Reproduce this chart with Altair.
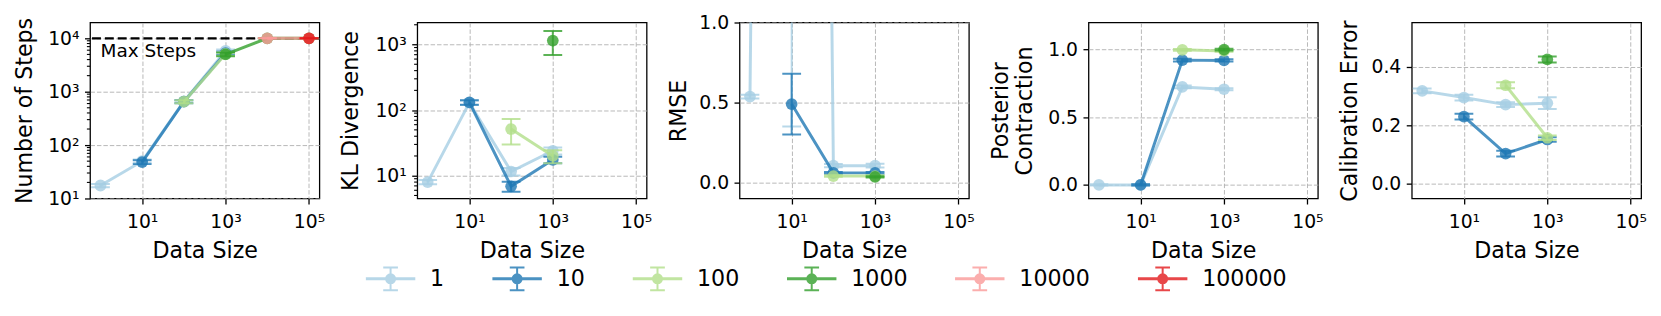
import altair as alt
import pandas as pd

FONT = "DejaVu Sans"

DATA_SIZES = [1, 10, 100, 1000, 10000, 100000]
SERIES = ["1", "10", "100", "1000", "10000", "100000"]
COLORS = ["#a6cee3", "#1f78b4", "#b2df8a", "#33a02c", "#fb9a99", "#e31a1c"]
N = None

# rows = series (1, 10, 100, 1000, 10000, 100000), columns = data size
STEPS_MEAN = [
    [17.5, 50, 660, 5800, N, N],
    [N, 48, 650, 5300, N, N],
    [N, N, 650, 5100, N, N],
    [N, N, N, 5000, 10000, 10000],
    [N, N, N, N, 10000, 10000],
    [N, N, N, N, N, 10000],
]
STEPS_ERR = [
    [1.2, 4, 40, 400, N, N],
    [N, 4, 40, 400, N, N],
    [N, N, 40, 400, N, N],
    [N, N, N, 400, 0, 0],
    [N, N, N, N, 0, 0],
    [N, N, N, N, N, 0],
]
KL_MEAN = [
    [8.0, 130, 11.6, 24, N, N],
    [N, 131, 6.9, 17.5, N, N],
    [N, N, 51.5, 20, N, N],
    [N, N, N, 1150, N, N],
]
KL_ERR = [
    [0.6, 10, 1.5, 3, N, N],
    [N, 10, 1.2, 2, N, N],
    [N, N, 21.5, 4.5, N, N],
    [N, N, N, 460, N, N],
]
RMSE_MEAN = [
    [0.537, 25.0, 0.105, 0.105, N, N],
    [N, 0.49, 0.06, 0.06, N, N],
    [N, N, 0.04, 0.04, N, N],
    [N, N, N, 0.035, N, N],
]
RMSE_ERR = [
    [0.012, 24.65, 0.01, 0.012, N, N],
    [N, 0.19, 0.006, 0.006, N, N],
    [N, N, 0.005, 0.005, N, N],
    [N, N, N, 0.004, N, N],
]
CONTRACTION_MEAN = [
    [0.0, 0.0, 0.724, 0.707, N, N],
    [N, 0.0, 0.922, 0.92, N, N],
    [N, N, 0.998, 0.99, N, N],
    [N, N, N, 1.0, N, N],
]
CONTRACTION_ERR = [
    [0.005, 0.005, 0.01, 0.008, N, N],
    [N, 0.005, 0.01, 0.008, N, N],
    [N, N, 0.006, 0.006, N, N],
    [N, N, N, 0.006, N, N],
]
CALIB_MEAN = [
    [0.317, 0.294, 0.27, 0.275, N, N],
    [N, 0.229, 0.103, 0.151, N, N],
    [N, N, 0.336, 0.157, N, N],
    [N, N, N, 0.424, N, N],
]
CALIB_ERR = [
    [0.008, 0.01, 0.008, 0.02, N, N],
    [N, 0.01, 0.01, 0.008, N, N],
    [N, N, 0.01, 0.008, N, N],
    [N, N, N, 0.01, N, N],
]

MAX_STEPS = 10000
MAX_STEPS_TEXT = "Max Steps"
MAX_STEPS_TEXT_X = 1
MAX_STEPS_TEXT_Y = 8600

MINOR_STEPS = [20, 30, 40, 50, 60, 70, 80, 90, 200, 300, 400, 500, 600, 700, 800, 900,
               2000, 3000, 4000, 5000, 6000, 7000, 8000, 9000]
MINOR_KL = [5, 6, 7, 8, 9, 20, 30, 40, 50, 60, 70, 80, 90,
            200, 300, 400, 500, 600, 700, 800, 900, 2000]

X_DOMAIN = [0.5623, 177828]
X_TICKS = [10, 1000, 100000]
SUP_EXPR = "['10⁰','10¹','10²','10³','10⁴','10⁵'][round(log(datum.value)/LN10)]"

PANELS = [
    dict(title="Number of Steps", mean=STEPS_MEAN, err=STEPS_ERR, log=True,
         domain=[10, 19800], ticks=[10, 100, 1000, 10000], minor=MINOR_STEPS, ext=53.8, maxline=True),
    dict(title="KL Divergence", mean=KL_MEAN, err=KL_ERR, log=True,
         domain=[4.5, 2165], ticks=[10, 100, 1000], minor=MINOR_KL, ext=55.3, maxline=False),
    dict(title="RMSE", mean=RMSE_MEAN, err=RMSE_ERR, log=False,
         domain=[-0.1, 1.0], ticks=[0.0, 0.5, 1.0], minor=None, ext=49.6, maxline=False),
    dict(title=["Posterior", "Contraction"], mean=CONTRACTION_MEAN, err=CONTRACTION_ERR, log=False,
         domain=[-0.1, 1.2], ticks=[0.0, 0.5, 1.0], minor=None, ext=52.6, maxline=False),
    dict(title="Calibration Error", mean=CALIB_MEAN, err=CALIB_ERR, log=False,
         domain=[-0.05, 0.55], ticks=[0.0, 0.2, 0.4], minor=None, ext=51.3, maxline=False),
]

LEGEND_PATH = ("M-1,-0.02L1,-0.02L1,0.02L-1,0.02Z"
               "M0,-0.48L0,0.48M-0.31,-0.48L0.31,-0.48M-0.31,0.48L0.31,0.48"
               "M0.19,0A0.19,0.19 0 1,1 -0.19,0A0.19,0.19 0 1,1 0.19,0Z")

COLOR_SCALE = alt.Scale(domain=SERIES, range=COLORS)
LEGEND = alt.Legend(
    title=None, orient="none", legendX=279, legendY=234, direction="horizontal",
    columns=6, columnPadding=45, labelOffset=15, symbolType=LEGEND_PATH,
    symbolSize=2304, symbolStrokeWidth=2, symbolOpacity=0.8, padding=0,
    labelFont=FONT, labelFontSize=22.4, labelColor="black", labelLimit=300,
)

W, H = 232, 178


def long_df(mean, err):
    rows = []
    for si, s in enumerate(SERIES[:len(mean)]):
        for xi, x in enumerate(DATA_SIZES):
            m = mean[si][xi]
            if m is None:
                continue
            e = err[si][xi]
            rows.append(dict(x=x, series=s, mean=m, lo=m - e, hi=m + e))
    return pd.DataFrame(rows)


def panel(p, with_legend):
    df = long_df(p["mean"], p["err"])
    xs = alt.Scale(type="log", domain=X_DOMAIN, nice=False)
    xaxis = alt.Axis(title="Data Size", values=X_TICKS, labelExpr=SUP_EXPR, grid=True,
                     labelPadding=9, minExtent=41.6, maxExtent=41.6, titlePadding=0)
    ys = alt.Scale(type="log" if p["log"] else "linear", domain=p["domain"], nice=False, zero=False)
    ykw = dict(title=p["title"], values=p["ticks"], grid=True, labelPadding=5.5,
               minExtent=p["ext"], maxExtent=p["ext"], titlePadding=0, titleLineHeight=24)
    if p["log"]:
        ykw["labelExpr"] = SUP_EXPR
    else:
        ykw["format"] = ".1f"
    yaxis = alt.Axis(**ykw)

    def X(f):
        return alt.X(f"{f}:Q", scale=xs, axis=xaxis)

    def Y(f):
        return alt.Y(f"{f}:Q", scale=ys, axis=yaxis)

    layers = []
    if p["minor"]:
        layers.append(
            alt.Chart(pd.DataFrame({"v": p["minor"]}))
            .mark_rule(color="black", strokeWidth=1.1)
            .encode(y=Y("v"), x=alt.value(0), x2=alt.value(-3.2))
        )
    if p["maxline"]:
        layers.append(
            alt.Chart(pd.DataFrame({"y": [MAX_STEPS]}))
            .mark_rule(color="black", strokeDash=[9, 4], strokeWidth=2.4)
            .encode(y=Y("y"))
        )
        layers.append(
            alt.Chart(pd.DataFrame({"x": [MAX_STEPS_TEXT_X], "y": [MAX_STEPS_TEXT_Y],
                                    "label": [MAX_STEPS_TEXT]}))
            .mark_text(align="left", baseline="top", fontSize=18.7, font=FONT, color="black")
            .encode(x=X("x"), y=Y("y"), text="label:N")
        )
    base = alt.Chart(df)
    present = list(df["series"].unique())
    for s, col in zip(SERIES, COLORS):
        if s not in present:
            continue
        color = alt.value(col)
        sub = base.transform_filter(alt.datum.series == s)
        layers.append(sub.mark_rule(strokeWidth=2, opacity=0.8, clip=True)
                      .encode(x=X("x"), y=Y("lo"), y2="hi:Q", color=color))
        for f in ("lo", "hi"):
            layers.append(sub.mark_tick(orient="horizontal", size=19, thickness=2, opacity=0.8, clip=True)
                          .encode(x=X("x"), y=Y(f), color=color))
        layers.append(sub.mark_line(strokeWidth=3, opacity=0.8, clip=True)
                      .encode(x=X("x"), y=Y("mean"), color=color, order="x:Q"))
        if with_legend and s == SERIES[0]:
            layers.append(sub.mark_circle(size=100, opacity=0.8, strokeWidth=2, clip=True)
                          .encode(x=X("x"), y=Y("mean"),
                                  fill=alt.Fill("series:N", scale=COLOR_SCALE, legend=LEGEND),
                                  stroke=alt.Stroke("series:N", scale=COLOR_SCALE, legend=LEGEND)))
        else:
            layers.append(sub.mark_circle(size=140, opacity=0.8, clip=True)
                          .encode(x=X("x"), y=Y("mean"), color=color))
    return alt.layer(*layers).properties(width=W, height=H)


chart = (
    alt.hconcat(*[panel(p, i == 0) for i, p in enumerate(PANELS)], spacing=13)
    .properties(padding={"left": 5, "top": 3, "right": 5, "bottom": 2})
    .configure(font=FONT)
    .configure_view(stroke="black", strokeWidth=1.3)
    .configure_axis(labelFont=FONT, titleFont=FONT, labelFontSize=19, titleFontSize=22.4,
                    titleFontWeight="normal", labelColor="black", titleColor="black",
                    tickColor="black", tickSize=5.6, tickWidth=1.3, domain=False,
                    gridColor="#b0b0b0", gridDash=[4.5, 2], gridWidth=0.9)
)

chart.save("out.html", embed_options={"renderer": "svg", "actions": False})
